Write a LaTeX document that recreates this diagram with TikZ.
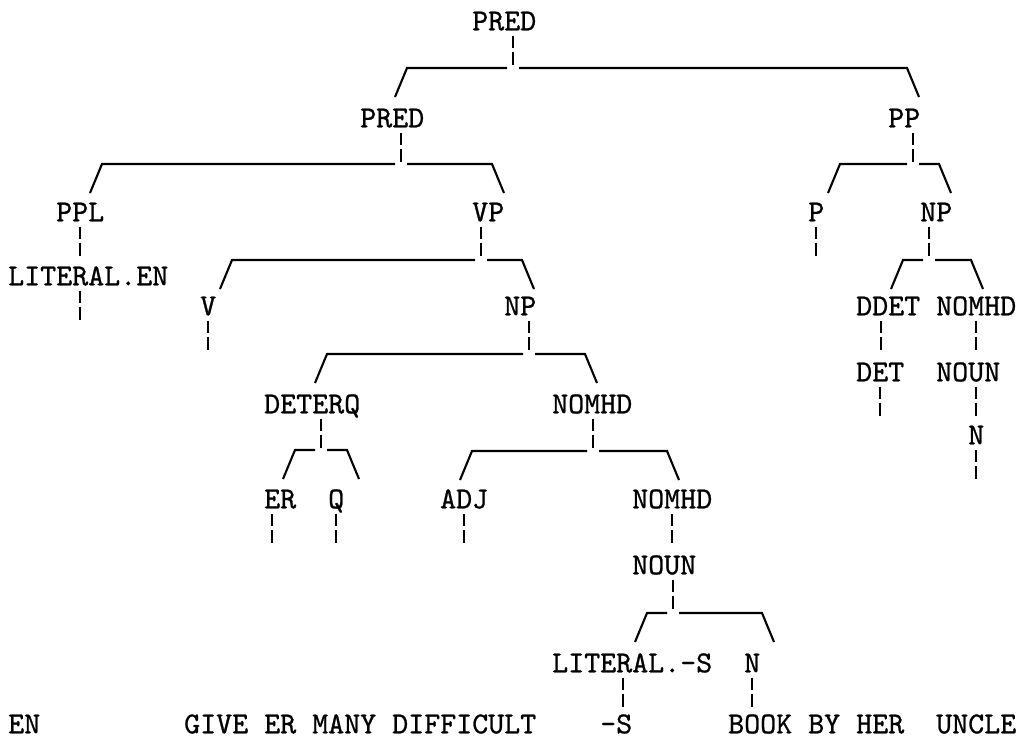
\documentclass[tikz,border=0pt]{standalone}
\usepackage{fontspec}
\newfontfamily\typew[FakeBold=0.8]{lmmono10-regular.otf}
\usetikzlibrary{calc}
\begin{document}
\begin{tikzpicture}[x=1pt,y=-1pt,
  lbl/.style={anchor=west, inner sep=0pt, font=\typew\fontsize{30.48}{36}\selectfont, text height=18.6pt, text depth=0pt},
  stroke/.style={line width=2.1pt, line cap=butt},
  vbar/.style={line width=2.2pt, dash pattern=on 12pt off 4pt on 13pt off 100pt}]
\fill[white] (0,0) rectangle (1019,739);
\useasboundingbox (0,0) rectangle (1019,739);
% nodes
\node[lbl] (pred0) at (472,21) {PRED};
\node[lbl] (pred1) at (360,118) {PRED};
\node[lbl] (pp) at (888,118) {PP};
\node[lbl] (ppl) at (56,212) {PPL};
\node[lbl] (vp) at (472,212) {VP};
\node[lbl] (p) at (808,212) {P};
\node[lbl] (npr) at (920,212) {NP};
\node[lbl] (litEN) at (8,276) {LITERAL.EN};
\node[lbl] (v) at (200,306) {V};
\node[lbl] (npl) at (504,306) {NP};
\node[lbl] (ddet) at (856,306) {DDET};
\node[lbl] (nomhdr) at (936,306) {NOMHD};
\node[lbl] (det) at (856,372) {DET};
\node[lbl] (nounr) at (936,372) {NOUN};
\node[lbl] (deterq) at (264,404) {DETERQ};
\node[lbl] (nomhdm) at (552,404) {NOMHD};
\node[lbl] (nr) at (968,435) {N};
\node[lbl] (er) at (264,499) {ER};
\node[lbl] (q) at (328,499) {Q};
\node[lbl] (adj) at (440,499) {ADJ};
\node[lbl] (nomhdl) at (632,499) {NOMHD};
\node[lbl] (nounl) at (632,565) {NOUN};
\node[lbl] (litS) at (552,663) {LITERAL.-S};
\node[lbl] (nl) at (744,663) {N};
\node[lbl] (w1) at (8,724) {EN};
\node[lbl] (w2) at (184,724) {GIVE ER MANY DIFFICULT};
\node[lbl] (w3) at (600,724) {-S};
\node[lbl] (w4) at (728,724) {BOOK BY HER};
\node[lbl] (w5) at (936,724) {UNCLE};
% junctions and arm ends
\coordinate (j1) at (513,68);  \coordinate (l1) at (407,68);  \coordinate (r1) at (907,68);
\coordinate (j2) at (401,164); \coordinate (l2) at (102,164); \coordinate (r2) at (492,164);
\coordinate (j3) at (913,164); \coordinate (l3) at (840,164); \coordinate (r3) at (939,164);
\coordinate (j4) at (481,260); \coordinate (l4) at (232,260); \coordinate (r4) at (522,260);
\coordinate (j5) at (929,260); \coordinate (l5) at (903,260); \coordinate (r5) at (971,260);
\coordinate (j6) at (529,354); \coordinate (l6) at (327,354); \coordinate (r6) at (585,354);
\coordinate (j7) at (321,450); \coordinate (l7) at (295,450); \coordinate (r7) at (347,450);
\coordinate (j8) at (593,451); \coordinate (l8) at (472,451); \coordinate (r8) at (667,451);
\coordinate (j9) at (673,613); \coordinate (l9) at (647,613); \coordinate (r9) at (762,613);
% branching connectors
\foreach \pn/\k in {pred0/1,pred1/2,pp/3,vp/4,npr/5,npl/6,deterq/7,nomhdm/8,nounl/9}{
  \draw[vbar] (\pn.south -| j\k) ++(0,5) -- ++(0,29);
  \draw[stroke] ($(j\k)+(-6,0)$) -- (l\k) -- ($(l\k)+(-12,29)$);
  \draw[stroke] ($(j\k)+(6,0)$) -- (r\k) -- ($(r\k)+(12,29)$);
}
% single vertical bars
\draw[vbar] (ppl.south) ++(0,5) -- ++(0,29);
\draw[vbar] ($(litEN.south)+(-8,5)$) -- ++(0,29);
\draw[vbar] ($(v.south)+(0,5)$) -- ++(0,29);
\draw[vbar] ($(p.south)+(0,5)$) -- ++(0,29);
\draw[vbar] ($(ddet.south)+(-7,5)$) -- ++(0,29);
\draw[vbar] ($(det.south)+(0,5)$) -- ++(0,29);
\draw[vbar] ($(nomhdr.south)+(0,5)$) -- ++(0,29);
\draw[vbar] ($(nounr.south)+(8,5)$) -- ++(0,29);
\draw[vbar] ($(nr.south)+(0,5)$) -- ++(0,29);
\draw[vbar] ($(er.south)+(-8,5)$) -- ++(0,29);
\draw[vbar] ($(q.south)+(0,5)$) -- ++(0,29);
\draw[vbar] ($(adj.south)+(0,5)$) -- ++(0,29);
\draw[vbar] ($(nomhdl.south)+(0,5)$) -- ++(0,29);
\draw[vbar] ($(litS.south)+(-9,5)$) -- ++(0,29);
\draw[vbar] ($(nl.south)+(0,5)$) -- ++(0,29);
\end{tikzpicture}
\end{document}
